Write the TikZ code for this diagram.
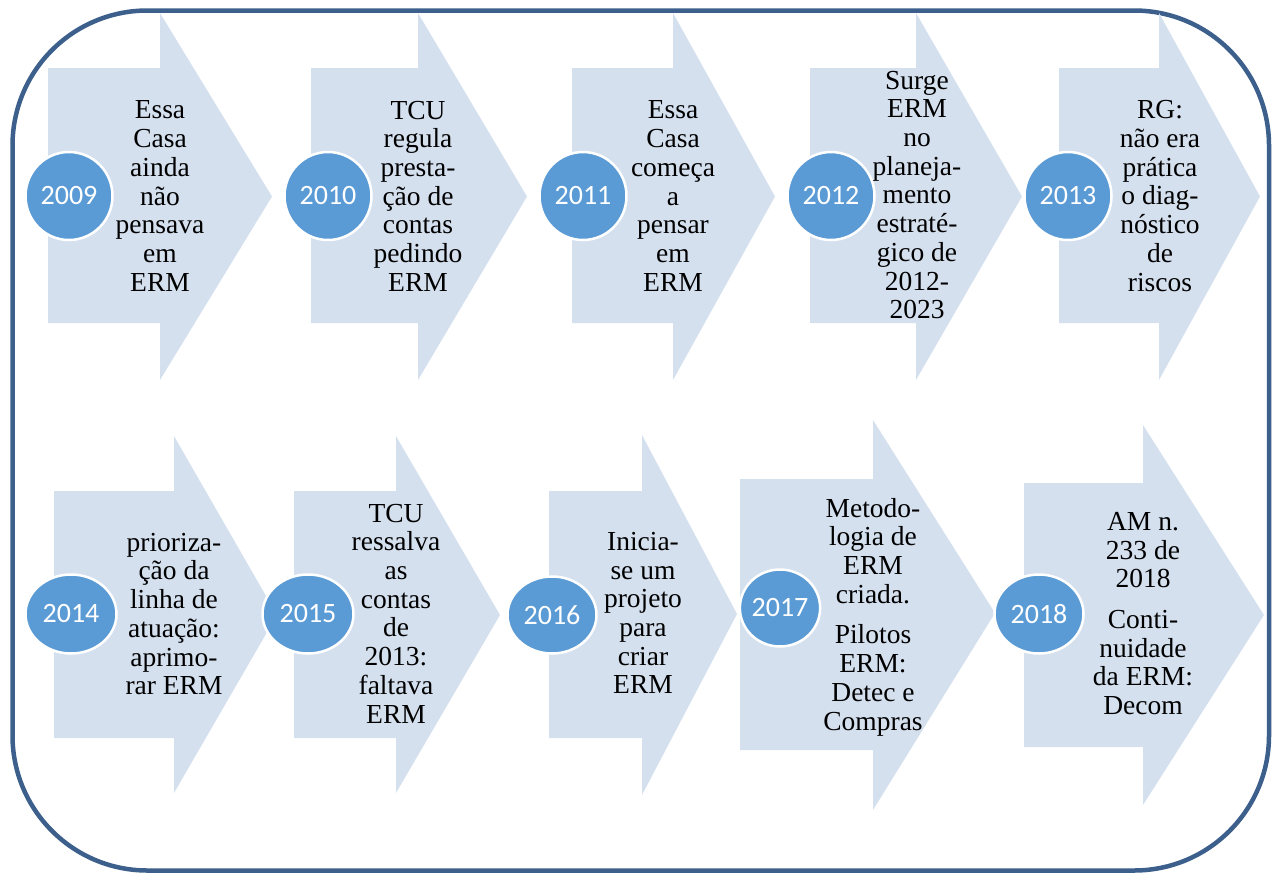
\documentclass[tikz,border=0pt]{standalone}
\usepackage{fontspec}
\setmainfont{Liberation Serif}
\newfontfamily\yearfont{Carlito}
\usetikzlibrary{shapes.geometric}
\definecolor{arrowfill}{HTML}{D5E0EF}
\definecolor{yearfill}{HTML}{5B9BD5}
\definecolor{framecol}{HTML}{3C5F8C}
\tikzset{
  yearnode/.style={ellipse, fill=yearfill, draw=white, line width=2.5pt, text=white,
    font=\yearfont\fontsize{28}{30}\selectfont, inner sep=0pt},
  eventtext/.style={align=center, inner sep=0pt, text=black,
    font=\fontsize{27.5}{28.7}\selectfont},
  framebox/.style={draw=framecol, line width=4.5pt, rounded corners=135pt},
}
% bodyleft, headbase, tip x, body top, body bottom, head top, head bottom, tip y
\newcommand\blockarrow[8]{%
  \fill[arrowfill] (#1,#4) -- (#2,#4) -- (#2,#6) -- (#3,#8) -- (#2,#7) -- (#2,#5) -- (#1,#5) -- cycle;}
\begin{document}
\begin{tikzpicture}[x=1pt,y=-1pt]
\useasboundingbox (0,0) rectangle (1274,873);
\draw[framebox] (12.5,10.5) rectangle (1269,870.5);
% top row arrows
\blockarrow{48}{160}{272}{68}{323}{13}{380}{196.5}
\blockarrow{311}{418}{527}{68}{323}{13}{380}{196.5}
\blockarrow{572}{673}{775}{68}{323}{13}{380}{196.5}
\blockarrow{810}{916}{1022}{68}{323}{13}{380}{196.5}
\blockarrow{1059}{1159}{1260}{68}{323}{13}{380}{196.5}
% bottom row arrows
\blockarrow{54}{174}{277}{491}{738}{436}{793}{615}
\blockarrow{294}{396}{500}{491}{738}{436}{793}{615}
\blockarrow{549}{642}{737}{491}{738}{435}{795}{614}
\blockarrow{740}{873}{995}{479}{750}{420}{810}{613}
\blockarrow{1024}{1143}{1264}{483}{747}{425}{805}{615}
% year circles
\node[yearnode, minimum width=87pt, minimum height=88pt] (y2009) at (69,196) {2009};
\node[yearnode, minimum width=87pt, minimum height=88pt] (y2010) at (328,196) {2010};
\node[yearnode, minimum width=87pt, minimum height=88pt] (y2011) at (583,196) {2011};
\node[yearnode, minimum width=87pt, minimum height=88pt] (y2012) at (831,196) {2012};
\node[yearnode, minimum width=87pt, minimum height=88pt] (y2013) at (1068,196) {2013};
\node[yearnode, minimum width=91pt, minimum height=79pt] (y2014) at (71,614) {2014};
\node[yearnode, minimum width=91pt, minimum height=79pt] (y2015) at (308,614) {2015};
\node[yearnode, minimum width=89pt, minimum height=77pt] (y2016) at (552,615) {2016};
\node[yearnode, minimum width=80pt, minimum height=77pt] (y2017) at (780,608) {2017};
\node[yearnode, minimum width=89pt, minimum height=79pt] (y2018) at (1039,614) {2018};
% texts
\node[eventtext] (t2009) at (160,196) {Essa\\Casa\\ainda\\não\\pensava\\em\\ERM};
\node[eventtext] (t2010) at (418,196) {TCU\\regula\\presta-\\ção de\\contas\\pedindo\\ERM};
\node[eventtext] (t2011) at (673,196) {Essa\\Casa\\começa\\a\\pensar\\em\\ERM};
\node[eventtext] (t2012) at (917,195) {Surge\\ERM\\no\\planeja-\\mento\\estraté-\\gico de\\2012-\\2023};
\node[eventtext] (t2013) at (1160,196) {RG:\\não era\\prática\\o diag-\\nóstico\\de\\riscos};
\node[eventtext] (t2014) at (174,614) {prioriza-\\ção da\\linha de\\atuação:\\aprimo-\\rar ERM};
\node[eventtext] (t2015) at (396,613.5) {TCU\\ressalva\\as\\contas\\de\\2013:\\faltava\\ERM};
\node[eventtext] (t2016) at (643,613) {Inicia-\\se um\\projeto\\para\\criar\\ERM};
\node[eventtext] (t2017) at (873,617) {Metodo-\\logia de\\ERM\\criada.\\[12pt]Pilotos\\ERM:\\Detec e\\Compras};
\node[eventtext] (t2018) at (1143,613.5) {AM n.\\233 de\\2018\\[12pt]Conti-\\nuidade\\da ERM:\\Decom};
\end{tikzpicture}
\end{document}
